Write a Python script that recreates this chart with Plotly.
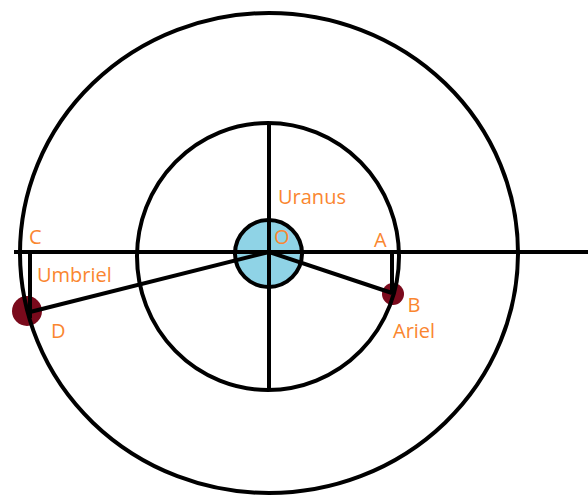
import plotly.graph_objects as go

# Geometry (diagram units = pixels of the reference)
center = (269, 252)
outer_orbit = dict(x0=20, x1=518, y0=13, y1=493)
inner_orbit = dict(x0=137, x1=399, y0=123, y1=390)
uranus = dict(x0=235, x1=302, y0=220, y1=287)

moon_names = ["Umbriel", "Ariel"]
moon_x = [27, 393]
moon_y = [311, 294]
moon_r = [15, 11]
line_end_x = [30, 392]
line_end_y = [312, 293]
foot_x = [30, 392]
foot_y0 = [252, 252]
foot_y1 = [318, 294]

axis_line_x = [14, 588]
axis_line_y = [252, 252]
vert_line_x = [269, 269]
vert_line_y = [123, 390]

labels = ["Uranus", "O", "A", "C", "Umbriel", "D", "B<br>Ariel"]
label_x = [312, 282, 380, 35, 74, 58, 414]
label_y = [196, 236, 239, 236, 274, 330, 317]

ORANGE = "#FA8630"
MOON = "#7A0A1C"
BLUE = "#8FD3E6"

fig = go.Figure()
shapes = []
shapes.append(dict(type="circle", xref="x", yref="y", **uranus,
                   fillcolor=BLUE, line=dict(width=0), layer="below"))
for mx, my, r in zip(moon_x, moon_y, moon_r):
    shapes.append(dict(type="circle", xref="x", yref="y",
                       x0=mx - r, x1=mx + r, y0=my - r, y1=my + r,
                       fillcolor=MOON, line=dict(width=0), layer="below"))
for orb in (outer_orbit, inner_orbit):
    shapes.append(dict(type="circle", xref="x", yref="y", **orb,
                       line=dict(color="black", width=4), layer="below"))
shapes.append(dict(type="circle", xref="x", yref="y", **uranus,
                   line=dict(color="black", width=4), layer="below"))

line_style = dict(color="black", width=4)
fig.add_trace(go.Scatter(x=axis_line_x, y=axis_line_y, mode="lines", line=line_style, hoverinfo="skip"))
fig.add_trace(go.Scatter(x=vert_line_x, y=vert_line_y, mode="lines", line=line_style, hoverinfo="skip"))
for ex, ey in zip(line_end_x, line_end_y):
    fig.add_trace(go.Scatter(x=[center[0], ex], y=[center[1], ey], mode="lines",
                             line=line_style, hoverinfo="skip"))
for fx, f0, f1 in zip(foot_x, foot_y0, foot_y1):
    fig.add_trace(go.Scatter(x=[fx, fx], y=[f0, f1], mode="lines",
                             line=line_style, hoverinfo="skip"))

annotations = [dict(x=lx, y=ly, xref="x", yref="y", text=t, showarrow=False,
                    font=dict(family="Open Sans", size=20, color=ORANGE),
                    xanchor="center", yanchor="middle", align="center")
               for t, lx, ly in zip(labels, label_x, label_y)]

fig.update_layout(
    width=588, height=496,
    margin=dict(l=0, r=0, t=0, b=0),
    paper_bgcolor="white", plot_bgcolor="white",
    showlegend=False,
    shapes=shapes, annotations=annotations,
    xaxis=dict(range=[0, 588], visible=False, fixedrange=True),
    yaxis=dict(range=[496, 0], visible=False, fixedrange=True),
)
fig.write_html("out.html", config={"displayModeBar": False},
               post_script="document.body.style.margin='0';document.body.style.overflow='hidden';")
